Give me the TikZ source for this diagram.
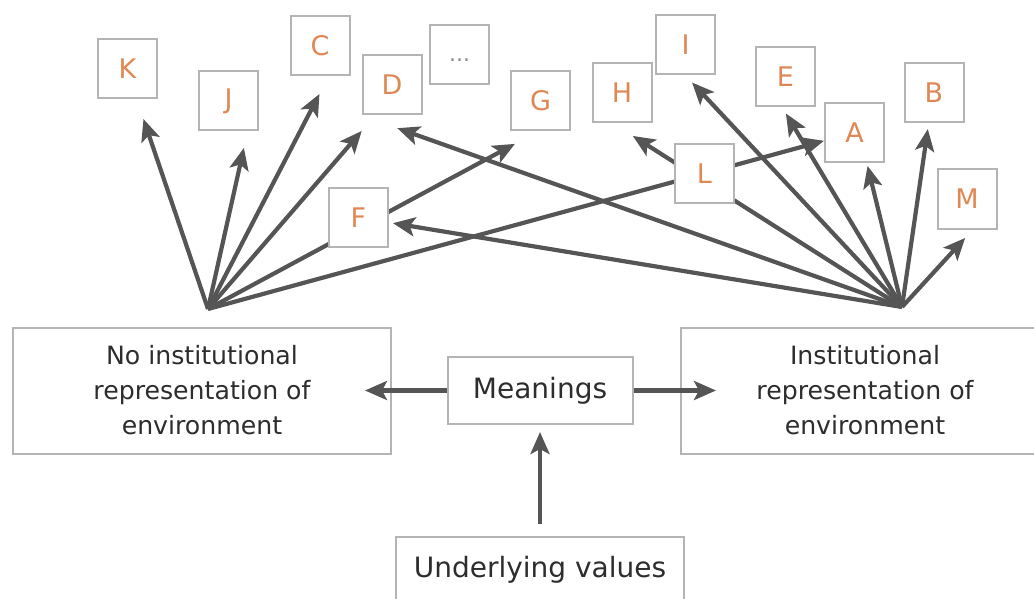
\documentclass[tikz,border=0pt]{standalone}
\usepackage{fontspec}
\setmainfont{DejaVu Sans}
\usepackage{tikz}
\usetikzlibrary{arrows.meta}
\definecolor{letterorange}{RGB}{224,136,84}
\definecolor{boxgray}{RGB}{180,180,180}
\definecolor{dotgray}{RGB}{140,140,140}
\definecolor{arrowgray}{RGB}{85,85,85}
\definecolor{textgray}{RGB}{45,45,45}
\pgfdeclarelayer{behind}
\pgfsetlayers{behind,main}

\begin{document}
\begin{tikzpicture}[x=0.5pt,y=-0.5pt,>={Stealth[length=11pt,width=9.5pt,inset=2.5pt]},
    letter node/.style={rectangle,draw=boxgray,line width=1pt,fill=white,minimum size=29.5pt,
      inner sep=0pt,text=letterorange,font=\fontsize{13.5pt}{16pt}\selectfont},
    side node/.style={rectangle,draw=boxgray,line width=1pt,fill=white,minimum height=63pt,
      align=center,text=textgray,font=\fontsize{12.6pt}{17.5pt}\selectfont},
    mid node/.style={rectangle,draw=boxgray,line width=1pt,fill=white,minimum height=33.5pt,
      text=textgray,font=\fontsize{14pt}{17pt}\selectfont},
    link/.style={draw=arrowgray,line width=2.1pt,->}]

  \useasboundingbox (0,0) rectangle (1034,599);
  \clip (0,0) rectangle (1034,599);

  % the letter boxes
  \node[letter node] (K) at (127.5,69) {K};
  \node[letter node] (J) at (228.5,101) {J};
  \node[letter node] (C) at (320,45.5) {C};
  \node[letter node] (D) at (392,85) {D};
  \node[letter node,text=dotgray,font=\fontsize{11pt}{13pt}\selectfont] (more) at (459.5,55)
    {\smash{\raisebox{-3.5pt}{...}}};
  \node[letter node] (G) at (540.5,100.5) {G};
  \node[letter node] (H) at (622,93) {H};
  \node[letter node] (I) at (685.5,45) {I};
  \node[letter node] (E) at (785.5,77) {E};
  \node[letter node] (A) at (854.5,132.5) {A};
  \node[letter node] (B) at (934,93) {B};
  \node[letter node] (L) at (704.5,173.5) {L};
  \node[letter node] (M) at (967,199) {M};
  \node[letter node] (F) at (358.5,217.5) {F};

  \coordinate (lefthub) at (208,309);
  \coordinate (righthub) at (902,307);

  % the lower boxes
  \node[side node,minimum width=189pt] (noinst) at (202,390.5)
    {No institutional\\representation of\\environment};
  \node[mid node,minimum width=92.5pt] (mean) at (540,390.5) {Meanings};
  \node[side node,minimum width=184pt] (inst) at (865,390.5)
    {Institutional\\representation of\\environment};
  \node[mid node,minimum width=144pt] (values) at (540,570) {Underlying values};

  \begin{pgfonlayer}{behind}
    \path[every edge/.style=link]
      (lefthub) edge[shorten >=10.3pt] (K.-73)
      (lefthub) edge[shorten >=8.4pt] (J.-58.5)
      (lefthub) edge[shorten >=10.1pt] (C.-74.5)
      (lefthub) edge[shorten >=10.2pt] (D.-119.5)
      (lefthub) edge[shorten >=13.6pt] (G.-93)
      (lefthub) edge (A)
      (righthub) edge[shorten >=19pt] (D.south west)
      (righthub) edge[shorten >=2pt] (F)
      (righthub) edge[shorten >=11.6pt] (H.-106)
      (righthub) edge[shorten >=4.8pt] (I.south)
      (righthub) edge[shorten >=3.5pt] (E.-96)
      (righthub) edge[shorten >=1.5pt] (A.-68)
      (righthub) edge[shorten >=2.8pt] (B.-100)
      (righthub) edge[shorten >=5.7pt] (M.-79);
  \end{pgfonlayer}

  \path[every edge/.style=link]
    (mean) edge[shorten >=-13.5pt] (noinst)
    (mean) edge[shorten >=-18pt] (inst)
    (values) edge[shorten <=6pt,shorten >=3.5pt] (mean);
\end{tikzpicture}
\end{document}
